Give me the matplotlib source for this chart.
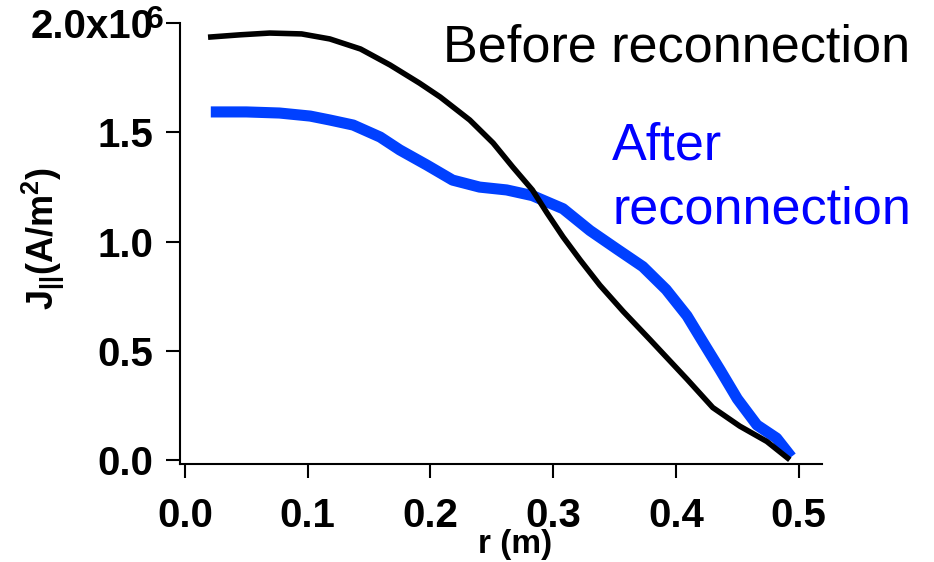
import matplotlib
matplotlib.use("Agg")
import matplotlib.pyplot as plt

plt.rcParams['font.family'] = ['Liberation Sans', 'DejaVu Sans']
plt.rcParams['mathtext.fontset'] = 'custom'
plt.rcParams['mathtext.rm'] = 'Liberation Sans:bold'
plt.rcParams['mathtext.it'] = 'Liberation Sans:bold'
plt.rcParams['mathtext.bf'] = 'Liberation Sans:bold'

# Data (J in units of 1e6 A/m^2)
r_before = [0.021, 0.045, 0.069, 0.095, 0.118, 0.143, 0.167, 0.191, 0.208, 0.232,
            0.251, 0.267, 0.283, 0.295, 0.308, 0.322, 0.338, 0.357, 0.379, 0.409,
            0.430, 0.452, 0.474, 0.491]
j_before = [1.936, 1.946, 1.954, 1.950, 1.927, 1.881, 1.808, 1.725, 1.661, 1.556,
            1.451, 1.341, 1.236, 1.130, 1.021, 0.915, 0.800, 0.680, 0.550, 0.370,
            0.240, 0.155, 0.085, 0.009]

r_after = [0.021, 0.050, 0.077, 0.102, 0.118, 0.137, 0.159, 0.175, 0.197, 0.218,
           0.240, 0.262, 0.283, 0.308, 0.330, 0.352, 0.373, 0.392, 0.409, 0.422,
           0.436, 0.450, 0.466, 0.482, 0.494]
j_after = [1.593, 1.593, 1.588, 1.574, 1.556, 1.533, 1.478, 1.419, 1.350, 1.281,
           1.249, 1.236, 1.210, 1.150, 1.050, 0.965, 0.885, 0.780, 0.660, 0.540,
           0.412, 0.280, 0.160, 0.100, 0.014]

x_ticks = [0.0, 0.1, 0.2, 0.3, 0.4, 0.5]
x_ticklabels = ['0.0', '0.1', '0.2', '0.3', '0.4', '0.5']
y_ticks = [0.0, 0.5, 1.0, 1.5, 2.0]
y_ticklabels = ['0.0', '0.5', '1.0', '1.5', '2.0x10']

fig = plt.figure(figsize=(9.34, 5.62), dpi=100)
ax = fig.add_axes([180/934, 1-464/562, (822-180)/934, (464-23)/562])

ax.plot(r_after, j_after, color='#0040ff', lw=8, solid_capstyle='butt',
        solid_joinstyle='round', zorder=2)
ax.plot(r_before, j_before, color='black', lw=4, solid_joinstyle='round', zorder=3)

ax.set_xlim(-0.0041, 0.519)
ax.set_ylim(-0.0183, 2.0)

for s in ['top', 'right']:
    ax.spines[s].set_visible(False)
for s in ['left', 'bottom']:
    ax.spines[s].set_linewidth(1.5)

ax.set_xticks(x_ticks)
ax.set_xticklabels(x_ticklabels, fontsize=29, fontweight='bold')
ax.set_yticks(y_ticks)
ax.set_yticklabels(y_ticklabels, fontsize=29, fontweight='bold')
ax.tick_params(axis='both', direction='out', length=10, width=1.5)
ax.tick_params(axis='x', pad=14)
ax.tick_params(axis='y', pad=9)

fig.text(146/934, 1-5/562, '6', fontsize=23, fontweight='bold', ha='left', va='top')

fig.text(515/934, 1-545/562, 'r (m)', fontsize=24, fontweight='bold', ha='center', va='center')
fig.text(43/934, 1-238/562, r'$J_{||}$(A/m$^2$)', fontsize=26, fontweight='bold',
         rotation=90, ha='center', va='center')

fig.text(443/934, 1-62/562, 'Before reconnection', fontsize=37.5, color='black',
         ha='left', va='baseline')
fig.text(612/934, 1-160/562, 'After', fontsize=37.5, color='#0000ff', ha='left', va='baseline')
fig.text(612/934, 1-223/562, 'reconnection', fontsize=37.5, color='#0000ff', ha='left', va='baseline')

fig.savefig('out.png', dpi=100)
